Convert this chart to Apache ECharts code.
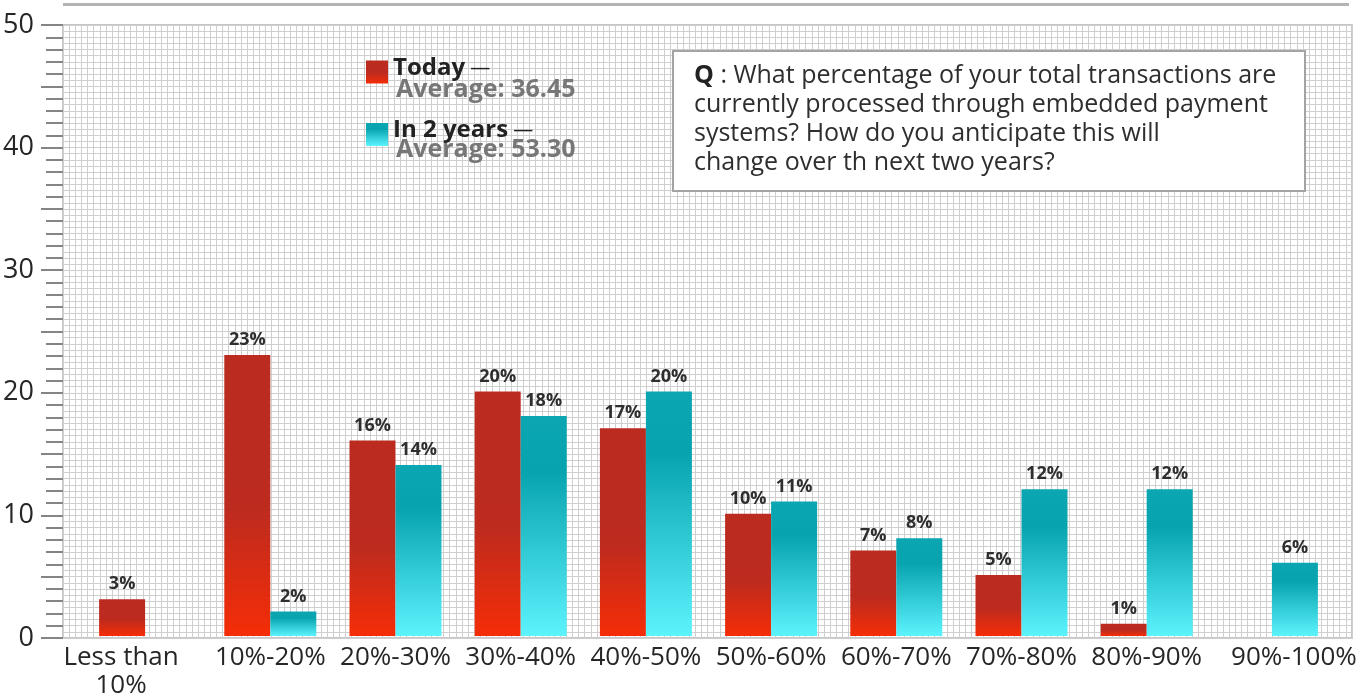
<!DOCTYPE html>
<html>
<head>
<meta charset="utf-8">
<title>Embedded payments share of transactions</title>
<script src="https://cdn.jsdelivr.net/npm/echarts@6/dist/echarts.min.js"></script>
<style>
  html, body { margin: 0; padding: 0; background: #ffffff; }
  #chart { width: 1371px; height: 700px; }
</style>
</head>
<body>
<div id="chart"></div>
<script>
// Share-of-transaction buckets and the percentage of respondents in each
const categories = ['Less than\n10%', '10%-20%', '20%-30%', '30%-40%', '40%-50%',
                    '50%-60%', '60%-70%', '70%-80%', '80%-90%', '90%-100%'];
const todayValues = [3, 23, 16, 20, 17, 10, 7, 5, 1, null];
const inTwoYearsValues = [null, 2, 14, 18, 20, 11, 8, 12, 12, 6];
const seriesNames = ['Today', 'In 2 years'];
const averageLabels = ['Average: 36.45', 'Average: 53.30'];
const yAxisRange = [0, 50];
const yLabelStep = 10;
const questionLines = [
  'What percentage of your total transactions are',
  'currently processed through embedded payment',
  'systems? How do you anticipate this will',
  'change over th next two years?'
];

const FONT = '"Open Sans", "Noto Sans", sans-serif';

const redFill = new echarts.graphic.LinearGradient(0, 0, 0, 1, [
  { offset: 0, color: '#bb2b20' },
  { offset: 0.55, color: '#bd2b1f' },
  { offset: 1, color: '#f52d07' }
]);
const tealFill = new echarts.graphic.LinearGradient(0, 0, 0, 1, [
  { offset: 0, color: '#0ba6b1' },
  { offset: 0.25, color: '#07a3ae' },
  { offset: 1, color: '#5cf3fd' }
]);

const chart = echarts.init(document.getElementById('chart'), null, { renderer: 'canvas' });

const valueLabel = {
  show: true,
  position: 'top',
  distance: 6,
  formatter: p => p.value + '%',
  fontFamily: FONT,
  fontSize: 18,
  fontWeight: 'bold',
  color: '#2e2e2e'
};

const option = {
  animation: false,
  backgroundColor: '#ffffff',
  grid: [
    // framed, finely ruled plotting area
    { left: 63, right: 19, top: 25, bottom: 62, show: true, backgroundColor: '#ffffff',
      borderColor: '#c6c6c6', borderWidth: 2 },
    // bars and category labels
    { left: 82.5, right: 36.5, top: 25, bottom: 62 }
  ],
  xAxis: [
    { gridIndex: 0, type: 'value', min: 0, max: 210, interval: 1,
      axisLine: { show: false }, axisTick: { show: false }, axisLabel: { show: false },
      splitLine: { show: true, lineStyle: { color: '#cfcfcf', width: 1 } } },
    { gridIndex: 1, type: 'category',
      data: categories.map((c, i) => {
        if (i === 0) return { value: c, textStyle: { padding: [0, 48, 0, 0] } };
        if (i === categories.length - 1) return { value: c, textStyle: { padding: [0, 0, 0, 44] } };
        return c;
      }),
      axisLine: { show: false }, axisTick: { show: false },
      axisLabel: { interval: 0, margin: 8, fontFamily: FONT, fontSize: 26, lineHeight: 28,
                   color: '#262626' } }
  ],
  yAxis: [
    { gridIndex: 0, type: 'value', min: yAxisRange[0], max: yAxisRange[1], interval: 5, offset: 3,
      axisLine: { show: false },
      axisTick: { show: true, length: 22, lineStyle: { color: '#858585', width: 2 } },
      minorTick: { show: true, splitNumber: 5, length: 17, lineStyle: { color: '#858585', width: 2 } },
      splitLine: { show: false },
      axisLabel: { margin: 26, fontFamily: FONT, fontSize: 27, color: '#262626',
                   formatter: v => (v % yLabelStep === 0 ? String(v) : '') } },
    { gridIndex: 0, type: 'value', min: 0, max: 100, interval: 1,
      axisLine: { show: false }, axisTick: { show: false }, axisLabel: { show: false },
      splitLine: { show: true, lineStyle: { color: '#cfcfcf', width: 1 } } },
    { gridIndex: 1, type: 'value', min: yAxisRange[0], max: yAxisRange[1],
      axisLine: { show: false }, axisTick: { show: false }, axisLabel: { show: false },
      splitLine: { show: false } }
  ],
  legend: {
    orient: 'vertical',
    left: 366, top: 56, padding: 0,
    itemWidth: 22, itemHeight: 23, itemGap: 35,
    icon: 'rect',
    data: seriesNames,
    formatter: name => '{n|' + name + '}{d| —}',
    textStyle: {
      rich: {
        n: { fontFamily: FONT, fontSize: 24, fontWeight: 'bold', color: '#222222', padding: [0, 0, 8, 0] },
        d: { fontFamily: FONT, fontSize: 20, color: '#222222', padding: [0, 0, 8, 0] }
      }
    }
  },
  series: [
    { name: seriesNames[0], type: 'bar', xAxisIndex: 1, yAxisIndex: 2,
      data: todayValues, barWidth: 46, barGap: '0%',
      itemStyle: { color: redFill }, label: valueLabel },
    { name: seriesNames[1], type: 'bar', xAxisIndex: 1, yAxisIndex: 2,
      data: inTwoYearsValues, barWidth: 46, barGap: '0%',
      itemStyle: { color: tealFill }, label: valueLabel }
  ],
  graphic: [
    { type: 'rect', z: 100, left: 63, top: 3, shape: { width: 1286, height: 3 },
      style: { fill: '#b4b4b4' }, silent: true },
    { type: 'text', z: 100, left: 396, top: 77,
      style: { text: averageLabels[0], fontFamily: FONT, fontSize: 25, fontWeight: 'bold', fill: '#777777' } },
    { type: 'text', z: 100, left: 396, top: 137,
      style: { text: averageLabels[1], fontFamily: FONT, fontSize: 25, fontWeight: 'bold', fill: '#777777' } },
    { type: 'rect', z: 100, left: 672, top: 50, shape: { width: 632, height: 140 },
      style: { fill: '#ffffff', stroke: '#a3a3a3', lineWidth: 2 } },
    { type: 'text', z: 101, left: 694, top: 61,
      style: {
        text: '{q|Q} : ' + questionLines.join('\n'),
        fontFamily: FONT, fontSize: 25, lineHeight: 29, fill: '#2e2e2e',
        rich: { q: { fontFamily: FONT, fontSize: 25, fontWeight: 'bold', fill: '#222222', lineHeight: 29 } }
      } }
  ]
};

chart.setOption(option);
</script>
</body>
</html>
